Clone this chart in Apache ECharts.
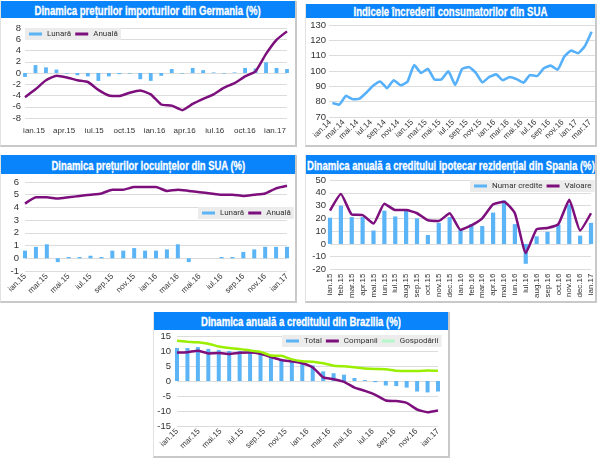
<!DOCTYPE html>
<html>
<head>
<meta charset="utf-8">
<script src="https://cdn.jsdelivr.net/npm/echarts@6/dist/echarts.min.js"></script>
<style>
    html, body { margin: 0; padding: 0; background: #fff; width: 600px; height: 458px; overflow: hidden; }
    .panel { position: absolute; box-sizing: border-box; background: #fff; border-right: 2px solid #c9c9c9; border-bottom: 2px solid #c9c9c9; border-left: 1px solid #e2e2e2; }
    .title { position: absolute; left: 0; right: 0; top: 0; background: #0a84fb; color: #fff; text-align: center; white-space: nowrap; overflow: hidden; }
    .title span { display: inline-block; font-family: "Liberation Sans", sans-serif; font-weight: bold; font-size: 12.5px; -webkit-text-stroke: 0.3px #fff; transform-origin: center; }
    .chart { position: absolute; left: 0; top: 0; width: 100%; height: 100%; }
</style>
</head>
<body>
<script>
// months, Germany chart runs to feb.17
var germanyMonths = ['ian.15','feb.15','mar.15','apr.15','mai.15','iun.15','iul.15','aug.15','sep.15','oct.15','nov.15','dec.15','ian.16','feb.16','mar.16','apr.16','mai.16','iun.16','iul.16','aug.16','sep.16','oct.16','nov.16','dec.16','ian.17','feb.17'];
var germanyTicks = ['ian.15','apr.15','iul.15','oct.15','ian.16','apr.16','iul.16','oct.16','ian.17'];
var germanyLunara = [-0.7,1.4,1.0,0.6,-0.1,-0.4,-0.6,-1.4,-0.6,-0.2,-0.1,-1.1,-1.4,-0.5,0.7,-0.1,0.9,0.5,0.1,-0.1,0.1,0.9,0.8,1.9,0.9,0.7];
var germanyAnuala = [-4.3,-2.9,-1.3,-0.5,-0.8,-1.3,-1.6,-3.0,-4.0,-4.1,-3.5,-3.1,-3.8,-5.6,-5.8,-6.6,-5.5,-4.6,-3.8,-2.6,-1.8,-0.6,0.3,3.4,5.9,7.4];

var confidenceMonths = ['ian.14','feb.14','mar.14','apr.14','mai.14','iun.14','iul.14','aug.14','sep.14','oct.14','nov.14','dec.14','ian.15','feb.15','mar.15','apr.15','mai.15','iun.15','iul.15','aug.15','sep.15','oct.15','nov.15','dec.15','ian.16','feb.16','mar.16','apr.16','mai.16','iun.16','iul.16','aug.16','sep.16','oct.16','nov.16','dec.16','ian.17','feb.17','mar.17'];
var confidenceValues = [79.2,78.1,83.9,81.6,82.0,86.0,90.5,93.2,88.8,94.0,90.7,93.0,103.8,98.8,101.4,94.3,94.6,99.8,90.9,101.3,102.6,99.0,92.6,96.1,97.8,94.0,96.1,94.7,92.4,97.4,96.7,101.8,103.5,100.8,109.4,113.3,111.6,116.1,125.6];

var months25 = germanyMonths.slice(0, 25);
var housingLunara = [0.6,0.9,1.1,-0.3,0.1,0.1,0.2,0.1,0.6,0.6,0.8,0.6,0.6,0.7,1.1,-0.3,0,0,0.1,0.1,0.5,0.7,0.9,0.9,0.9];
var housingAnuala = [4.3,4.8,4.8,4.7,4.8,4.9,5.0,5.1,5.4,5.4,5.6,5.6,5.6,5.3,5.4,5.3,5.2,5.1,5.0,5.0,4.9,5.0,5.1,5.5,5.7];

var spainNumar = [20.5,30,21,21,10.5,26,21.5,26,20,7,16.5,21,11,15.5,14,24.5,34,15.5,-15.5,6,9.5,15,31,6.5,16.5];
var spainValoare = [26,39,23,22.5,16,31.5,26.5,26.5,24,18.5,18,24,11,14.5,20,31,33,24,-7,11.5,12.5,15.5,34.5,10.5,24];

var brazilTotal = [11,11,11.3,10.7,10.3,10,10,9.8,9.3,8,7.3,6.5,6,5.2,3.2,2.6,2.1,1,0.3,-0.4,-1.5,-1.7,-2.2,-3.5,-3.8,-3.5];
var brazilCompanii = [9.5,9.6,10.1,9.2,9.3,9.0,9.4,9.5,9.1,8.0,7.0,6.5,5.9,4.5,1.2,0.6,-0.3,-2.2,-3.3,-4.6,-6.5,-6.7,-7.3,-9.5,-10.4,-9.8];
var brazilGospodarii = [13.4,13.1,12.9,12.4,11.5,11,10.7,10.2,9.7,8.5,8.4,7.2,6.6,6.4,5.9,5.1,4.9,4.6,4.2,4.0,3.9,3.4,3.3,3.3,3.5,3.4];

var BLUE = '#5ab4f5';
var PURPLE = '#7d0f7d';
var GREEN = '#9aee00';
var LABEL = '#333';
var AXIS_FONT = 'Liberation Sans';

function makePanel(x, y, w, h, titleH, text, textWidth) {
    var panel = document.createElement('div');
    panel.className = 'panel';
    panel.style.cssText = 'left:' + x + 'px;top:' + y + 'px;width:' + w + 'px;height:' + h + 'px;';
    var chartDiv = document.createElement('div');
    chartDiv.className = 'chart';
    panel.appendChild(chartDiv);
    var title = document.createElement('div');
    title.className = 'title';
    title.style.height = titleH + 'px';
    title.style.lineHeight = titleH + 'px';
    var span = document.createElement('span');
    span.textContent = text;
    title.appendChild(span);
    panel.appendChild(title);
    document.body.appendChild(panel);
    // no narrow font installed, squeeze the bold one to the original width
    var measured = span.offsetWidth;
    span.style.marginLeft = ((textWidth - measured) / 2) + 'px';
    span.style.marginRight = ((textWidth - measured) / 2) + 'px';
    span.style.transform = 'scaleX(' + (textWidth / measured) + ')';
    return echarts.init(chartDiv);
}

function valueAxis(min, max, interval, margin) {
    return {
        type: 'value', min: min, max: max, interval: interval,
        axisLine: { show: false }, axisTick: { show: false },
        axisLabel: { color: LABEL, fontSize: 9.5, fontFamily: AXIS_FONT, margin: margin },
        splitLine: { lineStyle: { color: '#dcdcdc', width: 1 } }
    };
}

function monthAxis(data, every, rotate, gap) {
    return {
        type: 'category', data: data, boundaryGap: gap,
        position: 'bottom',
        axisLine: { show: false, onZero: false }, axisTick: { show: false },
        axisLabel: { color: LABEL, fontSize: 8, fontFamily: AXIS_FONT, interval: every, rotate: rotate, margin: 4, hideOverlap: false }
    };
}

// the months only used to place marks, their labels come from another axis
function hiddenMonthAxis(data, gap) {
    return {
        type: 'category', data: data, boundaryGap: gap,
        axisLine: { show: false, onZero: false }, axisTick: { show: false }, axisLabel: { show: false }
    };
}

function makeLegend(left, top, names, gap) {
    return {
        left: left, top: top, width: 200, itemWidth: 13, itemHeight: 3, itemGap: gap, padding: [2, 3, 2, 4],
        backgroundColor: '#ececec', icon: 'rect',
        textStyle: { fontSize: 8, fontFamily: 'Roboto', color: '#333' },
        data: names
    };
}

function barSeries(name, data, width) {
    return { name: name, type: 'bar', data: data, barWidth: width, clip: false, itemStyle: { color: BLUE }, xAxisIndex: 0, yAxisIndex: 0 };
}

function lineSeries(name, data, color, width) {
    return { name: name, type: 'line', data: data, symbol: 'none', smooth: 0.15, lineStyle: { color: color, width: width }, itemStyle: { color: color }, xAxisIndex: 0, yAxisIndex: 0 };
}

function drawGermany() {
    var myChart = makePanel(0, 1, 297, 146, 17, 'Dinamica prețurilor importurilor din Germania (%)', 226);
    var labelAxis = monthAxis(germanyTicks, 0, 0, false);
    labelAxis.gridIndex = 1;
    labelAxis.axisLabel.margin = 9;
    myChart.setOption({
        animation: false,
        legend: makeLegend(24, 27, ['Lunară', 'Anuală'], 4),
        // second grid only carries the tick labels, they sit a bit off the months in the original
        grid: [
            { left: 24, top: 27, width: 262, height: 90 },
            { left: 33, top: 27, width: 241, height: 90 }
        ],
        xAxis: [hiddenMonthAxis(germanyMonths, false), labelAxis],
        yAxis: [
            valueAxis(-8, 8, 2, 4),
            { type: 'value', gridIndex: 1, min: -8, max: 8, show: false }
        ],
        series: [barSeries('Lunară', germanyLunara, 3.8), lineSeries('Anuală', germanyAnuala, PURPLE, 2.5)]
    });
}

function drawConfidence() {
    var myChart = makePanel(305, 4, 292, 143, 14, 'Indicele încrederii consumatorilor din SUA', 194);
    var labelAxis = monthAxis(confidenceMonths, 1, 45, false);
    labelAxis.gridIndex = 1;
    myChart.setOption({
        animation: false,
        grid: [
            { left: 23, top: 21, width: 266, height: 92 },
            { left: 24, top: 21, width: 265, height: 92 }
        ],
        xAxis: [hiddenMonthAxis(confidenceMonths, true), labelAxis],
        yAxis: [
            valueAxis(70, 130, 10, 3),
            { type: 'value', gridIndex: 1, min: 70, max: 130, show: false }
        ],
        series: [lineSeries('Indice', confidenceValues, '#56b0fa', 2.6)]
    });
}

function drawHousing() {
    var myChart = makePanel(0, 155, 297, 148, 19, 'Dinamica prețurilor locuințelor din SUA (%)', 194);
    myChart.setOption({
        animation: false,
        legend: makeLegend(197, 52, ['Lunară', 'Anuală'], 4),
        grid: { left: 24, top: 27, width: 262, height: 89 },
        xAxis: monthAxis(months25, 1, 45, false),
        yAxis: valueAxis(-1, 6, 1, 6),
        series: [barSeries('Lunară', housingLunara, 4), lineSeries('Anuală', housingAnuala, PURPLE, 2.5)]
    });
}

function drawSpain() {
    var myChart = makePanel(305, 155, 292, 148, 19, 'Dinamica anuală a creditului ipotecar rezidențial din Spania (%)', 288);
    myChart.setOption({
        animation: false,
        legend: makeLegend(164, 25, ['Numar credite', 'Valoare'], 4),
        grid: { left: 24, top: 25, width: 262, height: 90 },
        xAxis: monthAxis(months25, 0, 90, false),
        yAxis: valueAxis(-20, 50, 10, 4),
        series: [barSeries('Numar credite', spainNumar, 4.2), lineSeries('Valoare', spainValoare, PURPLE, 2.5)]
    });
}

function drawBrazil() {
    var myChart = makePanel(153, 312, 297, 146, 18, 'Dinamica anuală a creditului din Brazilia (%)', 200);
    myChart.setOption({
        animation: false,
        legend: makeLegend(128, 23, ['Total', 'Companii', { name: 'Gospodării', itemStyle: { color: '#b4f7c8' } }], 4),
        grid: { left: 23, top: 24, width: 261, height: 90 },
        xAxis: [hiddenMonthAxis(germanyMonths, false), monthAxis(months25, 1, 45, false)],
        yAxis: valueAxis(-15, 15, 5, 6),
        series: [
            barSeries('Total', brazilTotal, 4),
            lineSeries('Companii', brazilCompanii, PURPLE, 2.5),
            lineSeries('Gospodării', brazilGospodarii, GREEN, 2.5)
        ]
    });
}

drawGermany();
drawConfidence();
drawHousing();
drawSpain();
drawBrazil();
</script>
</body>
</html>
